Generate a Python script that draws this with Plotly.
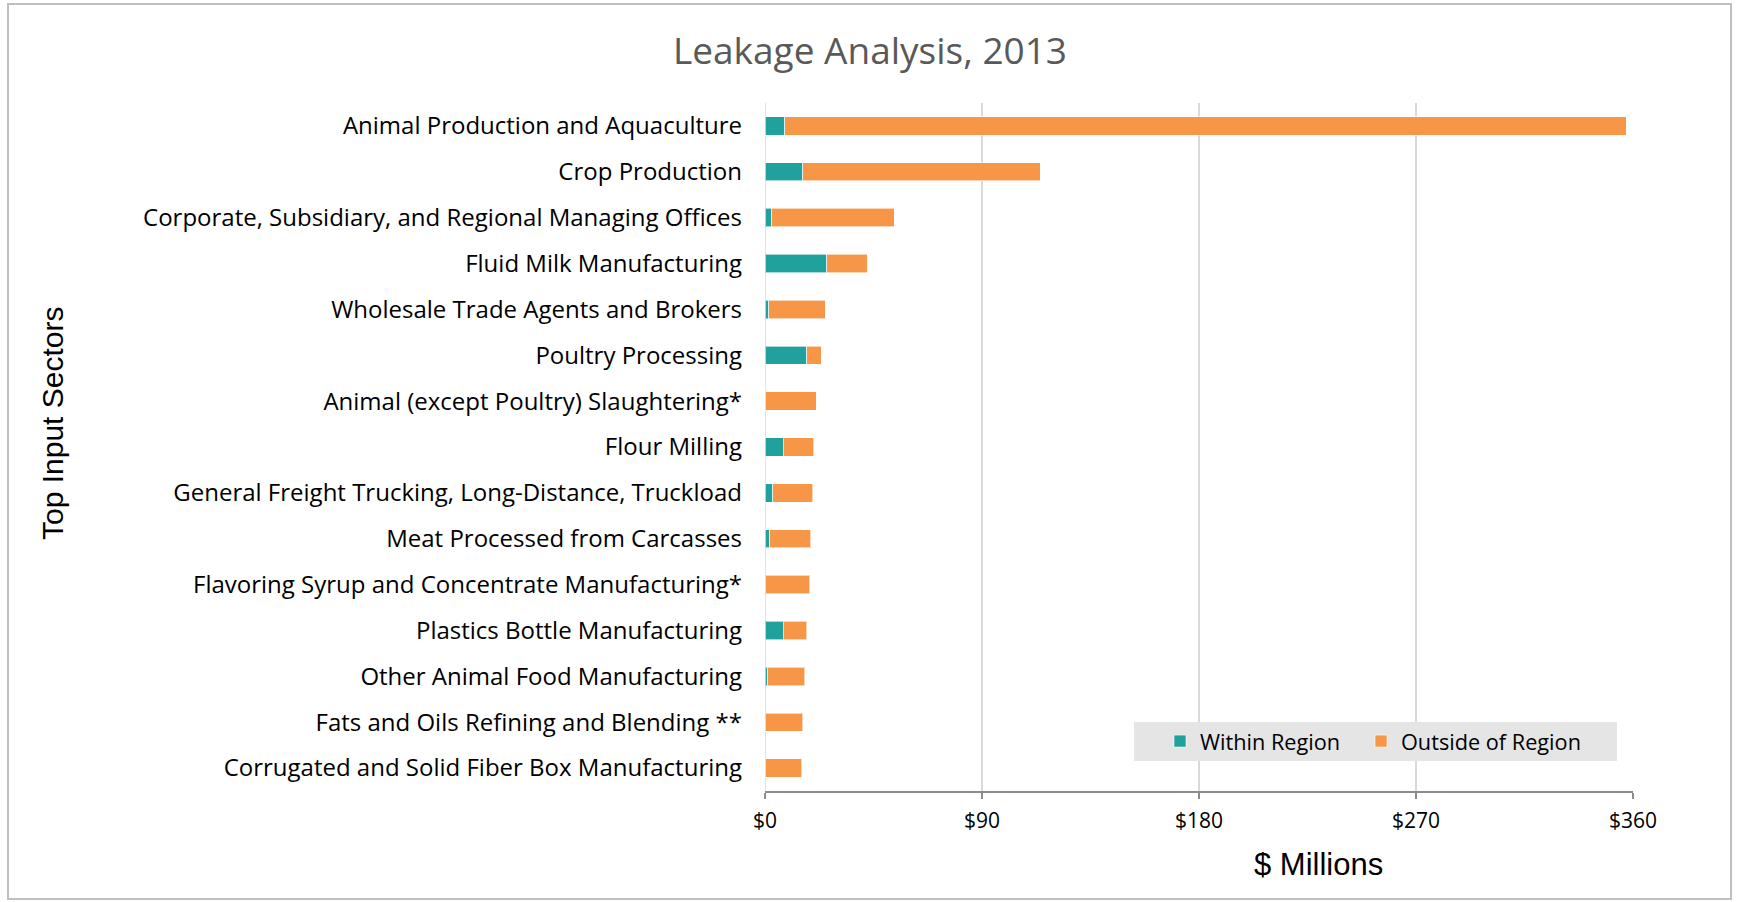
import plotly.graph_objects as go

categories = [
    "Animal Production and Aquaculture",
    "Crop Production",
    "Corporate, Subsidiary, and Regional Managing Offices",
    "Fluid Milk Manufacturing",
    "Wholesale Trade Agents and Brokers",
    "Poultry Processing",
    "Animal (except Poultry) Slaughtering*",
    "Flour Milling",
    "General Freight Trucking, Long-Distance, Truckload",
    "Meat Processed from Carcasses",
    "Flavoring Syrup and Concentrate Manufacturing*",
    "Plastics Bottle Manufacturing",
    "Other Animal Food Manufacturing",
    "Fats and Oils Refining and Blending **",
    "Corrugated and Solid Fiber Box Manufacturing",
]
within_region = [8.1, 15.7, 2.9, 25.7, 1.5, 17.3, 0.0, 7.5, 3.3, 1.9, 0.0, 7.6, 1.2, 0.0, 0.0]
totals = [357.1, 114.2, 53.6, 42.4, 24.9, 23.3, 21.2, 20.2, 19.7, 19.0, 18.6, 17.4, 16.5, 15.6, 15.2]
outside_region = [round(t - w, 1) for t, w in zip(totals, within_region)]
x_ticks = [0, 90, 180, 270, 360]
x_tick_labels = ["$" + str(v) for v in x_ticks]

TEAL = "#21a19d"
ORANGE = "#f79646"
LAB = "Open Sans"
ARIAL = "Liberation Sans"

fig = go.Figure()
fig.add_trace(go.Bar(
    y=categories, x=within_region, orientation="h", name="Within Region",
    marker=dict(color=TEAL, line=dict(color="rgba(255,255,255,0.6)", width=1)),
    legend="legend",
))
fig.add_trace(go.Bar(
    y=categories, x=outside_region, orientation="h", name="Outside of Region",
    marker=dict(color=ORANGE, line=dict(color="rgba(255,255,255,0.6)", width=1)),
    legend="legend2",
))

L, R, T, B = 765, 104, 103, 111
W, H = 1737, 902
pw, ph = W - L - R, H - T - B

def px_x(p):
    return (p - L) / pw

def px_y(p):
    return (H - B - p) / ph

legend_common = dict(
    orientation="h", xanchor="left", y=px_y(741.5), yanchor="middle",
    bgcolor="rgba(0,0,0,0)", font=dict(size=21.7, family=LAB, color="#000000"),
    itemwidth=30,
)

fig.update_layout(
    width=W, height=H,
    barmode="stack", bargap=0.6,
    paper_bgcolor="white", plot_bgcolor="white",
    margin=dict(l=L, r=R, t=T, b=B),
    font=dict(family=LAB, color="#000000"),
    title=dict(text="Leakage Analysis, 2013", x=870 / W, xanchor="center", xref="container",
               y=1 - 51 / H, yanchor="middle",
               font=dict(size=37, color="#595959", family=LAB)),
    xaxis=dict(
        range=[0, 360], tickvals=x_ticks, ticktext=x_tick_labels,
        showgrid=True, gridcolor="#d9d9d9", gridwidth=1.5,
        zeroline=False, showline=True, linecolor="#8c8c8c", linewidth=2,
        ticks="outside", tickcolor="#8c8c8c", ticklen=6, tickwidth=2,
        ticklabelstandoff=4,
        tickfont=dict(size=21, family=LAB, color="#000000"),
        fixedrange=True,
    ),
    yaxis=dict(
        autorange="reversed", showgrid=False, zeroline=False, showline=False,
        ticks="", ticklabelstandoff=22,
        tickfont=dict(size=24, family=LAB, color="#000000"),
    ),
    showlegend=True,
    legend=dict(x=px_x(1160), **legend_common),
    legend2=dict(x=px_x(1361), **legend_common),
    annotations=[
        dict(text="$ Millions", x=px_x(1318), y=px_y(864), xref="paper", yref="paper",
             showarrow=False, xanchor="center", yanchor="middle",
             font=dict(size=31, family=ARIAL, color="#000000")),
        dict(text="Top Input Sectors", x=px_x(52), y=px_y(424), xref="paper", yref="paper",
             showarrow=False, xanchor="center", yanchor="middle", textangle=-90,
             font=dict(size=30, family=ARIAL, color="#000000")),
    ],
    shapes=[
        dict(type="rect", xref="paper", yref="paper",
             x0=px_x(8), x1=px_x(1731), y0=px_y(899), y1=px_y(4),
             line=dict(color="#bfbfbf", width=2), fillcolor="rgba(0,0,0,0)", layer="below"),
        dict(type="rect", xref="paper", yref="paper",
             x0=px_x(1134), x1=px_x(1617), y0=px_y(761), y1=px_y(722),
             line=dict(width=0), fillcolor="#e5e5e5", layer="above"),
        dict(type="line", xref="x", yref="paper", x0=0, x1=0, y0=0, y1=1,
             line=dict(color="#d9d9d9", width=1.5), layer="below"),
    ],
)

fig.write_html(
    "out.html",
    config={"displayModeBar": False},
    post_script="document.body.style.margin='0';document.body.style.overflow='hidden';",
)
